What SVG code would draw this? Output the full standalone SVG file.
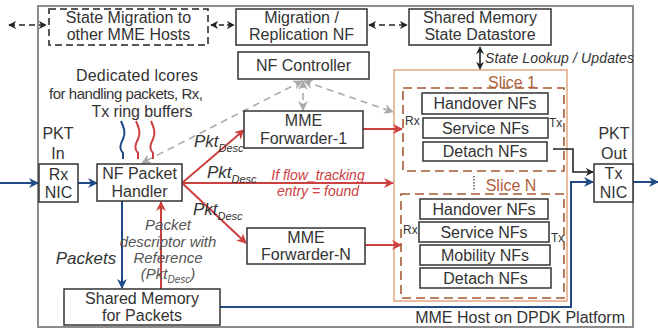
<svg xmlns="http://www.w3.org/2000/svg" width="658" height="329" viewBox="0 0 658 329">
<defs>
<style>
text{font-family:"Liberation Sans",Arial,sans-serif;fill:#333;}
.t{font-size:16px;text-anchor:middle;}
.it{font-style:italic;}
.box{fill:#fff;stroke:#333;stroke-width:1.5;}
.blk{stroke:#222;stroke-width:1.6;fill:none;}
.bl{stroke:#1f4a87;stroke-width:2;fill:none;}
.rd{stroke:#cc4040;stroke-width:2;fill:none;}
.gd{stroke:#aaa;stroke-width:1.6;fill:none;stroke-dasharray:7,5;}
.sm{font-size:12px;}
.br{fill:#b0603a;}
</style>
<marker id="ak" viewBox="0 0 10 10" refX="9" refY="5" markerWidth="8" markerHeight="8" markerUnits="userSpaceOnUse" orient="auto-start-reverse"><path d="M0,0 L10,5 L0,10 L3,5 z" fill="#222"/></marker>
<marker id="ab" viewBox="0 0 10 10" refX="9" refY="5" markerWidth="10" markerHeight="10" markerUnits="userSpaceOnUse" orient="auto-start-reverse"><path d="M0,0 L10,5 L0,10 L3,5 z" fill="#1f4a87"/></marker>
<marker id="ar" viewBox="0 0 10 10" refX="9" refY="5" markerWidth="10" markerHeight="10" markerUnits="userSpaceOnUse" orient="auto-start-reverse"><path d="M0,0 L10,5 L0,10 L3,5 z" fill="#cc4040"/></marker>
<marker id="ag" viewBox="0 0 10 10" refX="9" refY="5" markerWidth="10" markerHeight="10" markerUnits="userSpaceOnUse" orient="auto-start-reverse"><path d="M0,0 L10,5 L0,10 L3,5 z" fill="#aaa"/></marker>
</defs>
<rect width="658" height="329" fill="#fff"/>
<g id="host">
<rect x="38" y="6" width="595" height="321" fill="none" stroke="#8c8c8c" stroke-width="2"/>
<text x="625" y="323" style="font-size:16px;text-anchor:end">MME Host on DPDK Platform</text>
</g>
<g id="slices-area">
<rect x="394" y="70" width="173" height="231" fill="none" stroke="#e3a57c" stroke-width="1.5"/>
</g>
<g id="connectors">
<line x1="9" y1="25" x2="46" y2="25" class="blk" stroke-dasharray="6,4" marker-start="url(#ak)" marker-end="url(#ak)"/>
<line x1="211" y1="25" x2="234" y2="25" class="blk" stroke-dasharray="5,3" marker-start="url(#ak)" marker-end="url(#ak)"/>
<line x1="369" y1="25" x2="407" y2="25" class="blk" stroke-dasharray="6,4" marker-start="url(#ak)" marker-end="url(#ak)"/>
<line x1="480" y1="47" x2="480" y2="69" class="blk" marker-start="url(#ak)" marker-end="url(#ak)"/>
<line x1="302" y1="81" x2="142" y2="163" class="gd" marker-start="url(#ag)" marker-end="url(#ag)"/>
<line x1="303" y1="81" x2="303" y2="110" class="gd" stroke-dasharray="4,3" marker-start="url(#ag)" marker-end="url(#ag)"/>
<line x1="304" y1="81" x2="393" y2="112" class="gd" marker-start="url(#ag)" marker-end="url(#ag)"/>
<line x1="0" y1="183" x2="38" y2="183" class="bl" marker-end="url(#ab)"/>
<line x1="78" y1="183" x2="97" y2="183" class="bl" marker-end="url(#ab)"/>
<line x1="182" y1="183" x2="244" y2="130" class="rd" marker-end="url(#ar)"/>
<line x1="182" y1="183" x2="393" y2="183" class="rd" marker-end="url(#ar)"/>
<line x1="182" y1="183" x2="246" y2="243" class="rd" marker-end="url(#ar)"/>
<line x1="363" y1="129" x2="402" y2="129" class="rd" marker-end="url(#ar)"/>
<line x1="365" y1="245" x2="401" y2="245" class="rd" marker-end="url(#ar)"/>
<line x1="122" y1="201" x2="122" y2="288" class="bl" marker-end="url(#ab)"/>
<line x1="161" y1="289" x2="161" y2="202" class="rd" marker-end="url(#ar)"/>
<polyline points="220,307 571,307 571,182 593,182" class="bl" marker-end="url(#ab)"/>
<polyline points="553,149 573,149 573,172 593,172" class="blk" stroke-width="2" marker-end="url(#ak)"/>
<line x1="633" y1="182" x2="658" y2="182" class="bl" marker-end="url(#ab)"/>
<line x1="474" y1="176" x2="474" y2="190" stroke="#333" stroke-width="1.2" stroke-dasharray="1.5,1.5"/>
<path d="M121,121 C124,128 126,133 123,139 C120,145 119,149 123,153 L123,159" class="bl" stroke-width="1.6"/>
<path d="M136,121 C139,128 141,133 138,139 C135,145 134,149 138,153 L138,159" class="rd" stroke-width="1.6"/>
<path d="M151,121 C154,128 156,133 153,139 C150,145 149,149 153,153 L153,159" class="rd" stroke-width="1.6"/>
</g>
<g id="labels">
<text x="485" y="63" class="it" style="font-size:14px" textLength="149">State Lookup / Updates</text>
<text x="137" y="81" class="t" textLength="122">Dedicated lcores</text>
<text x="126" y="99" class="t" style="font-size:15px" textLength="154">for handling packets, Rx,</text>
<text x="142" y="117" class="t" textLength="101">Tx ring buffers</text>
<text x="194" y="147" class="it" style="font-size:17px">Pkt<tspan dy="5" style="font-size:11px">Desc</tspan></text>
<text x="207" y="178" class="it" style="font-size:17px">Pkt<tspan dy="5" style="font-size:11px">Desc</tspan></text>
<text x="193" y="215" class="it" style="font-size:17px">Pkt<tspan dy="5" style="font-size:11px">Desc</tspan></text>
<text x="318" y="180" class="t it" style="font-size:14px;fill:#cc4040">If flow_tracking</text>
<text x="318" y="196" class="t it" style="font-size:14px;fill:#cc4040">entry = found</text>
<text x="86" y="264" class="t it" style="font-size:17px">Packets</text>
<text x="168" y="230" class="t it" style="font-size:15px;fill:#555">Packet</text>
<text x="168" y="247" class="t it" style="font-size:15px;fill:#555">descriptor with</text>
<text x="168" y="263" class="t it" style="font-size:15px;fill:#555">Reference</text>
<text x="168" y="279" class="t it" style="font-size:15px;fill:#555">(Pkt<tspan dy="4" style="font-size:10px">Desc</tspan><tspan dy="-4">)</tspan></text>
</g>
<g id="state-migration">
<rect x="49" y="9" width="159" height="36" fill="#fff" stroke="#222" stroke-width="1.5" stroke-dasharray="7,4"/>
<text x="128.5" y="23" class="t">State Migration to</text>
<text x="128.5" y="40" class="t">other MME Hosts</text>
</g>
<g id="migration-nf">
<rect x="236" y="9" width="131" height="36" class="box"/>
<text x="301.5" y="23" class="t">Migration /</text>
<text x="301.5" y="40" class="t">Replication NF</text>
</g>
<g id="state-datastore">
<rect x="409" y="9" width="142" height="36" class="box"/>
<text x="480" y="23" class="t">Shared Memory</text>
<text x="480" y="40" class="t">State Datastore</text>
</g>
<g id="nf-controller">
<rect x="238" y="52" width="131" height="27" class="box"/>
<text x="303.5" y="71" class="t">NF Controller</text>
</g>
<g id="pkt-in">
<text x="58" y="139" class="t">PKT</text>
<text x="58" y="159" class="t">In</text>
<rect x="39" y="164" width="39" height="38" class="box"/>
<text x="58.5" y="180" class="t">Rx</text>
<text x="58.5" y="198" class="t">NIC</text>
</g>
<g id="nf-packet-handler">
<rect x="97" y="164" width="85" height="37" class="box"/>
<text x="139.5" y="179" class="t">NF Packet</text>
<text x="139.5" y="197" class="t">Handler</text>
</g>
<g id="forwarder-1">
<rect x="244" y="111" width="119" height="37" class="box"/>
<text x="303.5" y="126" class="t">MME</text>
<text x="303.5" y="144" class="t">Forwarder-1</text>
</g>
<g id="forwarder-n">
<rect x="247" y="228" width="118" height="36" class="box"/>
<text x="306" y="243" class="t">MME</text>
<text x="306" y="260" class="t">Forwarder-N</text>
</g>
<g id="shared-memory-packets">
<rect x="64" y="289" width="156" height="36" class="box"/>
<text x="142" y="304" class="t">Shared Memory</text>
<text x="142" y="321" class="t">for Packets</text>
</g>
<g id="pkt-out">
<text x="614" y="139" class="t">PKT</text>
<text x="614" y="159" class="t">Out</text>
<rect x="594" y="164" width="39" height="38" class="box"/>
<text x="613.5" y="179" class="t">Tx</text>
<text x="613.5" y="198" class="t">NIC</text>
</g>
<g id="slice-1">
<rect x="403" y="88" width="161" height="83" fill="none" stroke="#a65a32" stroke-width="1.6" stroke-dasharray="9,5"/>
<text x="512" y="88" class="t br">Slice 1</text>
<text x="405" y="125" class="sm">Rx</text>
<text x="549" y="127" class="sm">Tx</text>
<rect x="422" y="93" width="126" height="21" class="box"/>
<text x="485" y="109" class="t">Handover NFs</text>
<rect x="423" y="118" width="125" height="20" class="box"/>
<text x="485.5" y="134" class="t">Service NFs</text>
<rect x="423" y="142" width="124" height="19" class="box"/>
<text x="485" y="157" class="t">Detach NFs</text>
</g>
<g id="slice-n">
<rect x="401" y="194" width="163" height="104" fill="none" stroke="#a65a32" stroke-width="1.6" stroke-dasharray="9,5"/>
<text x="511" y="191" class="t br">Slice N</text>
<text x="403" y="234" class="sm">Rx</text>
<text x="551" y="242" class="sm">Tx</text>
<rect x="420" y="199" width="128" height="20" class="box"/>
<text x="484" y="215" class="t">Handover NFs</text>
<rect x="419" y="222" width="130" height="20" class="box"/>
<text x="484" y="238" class="t">Service NFs</text>
<rect x="420" y="245" width="130" height="20" class="box"/>
<text x="485" y="261" class="t">Mobility NFs</text>
<rect x="420" y="268" width="131" height="20" class="box"/>
<text x="485.5" y="284" class="t">Detach NFs</text>
</g>
</svg>
